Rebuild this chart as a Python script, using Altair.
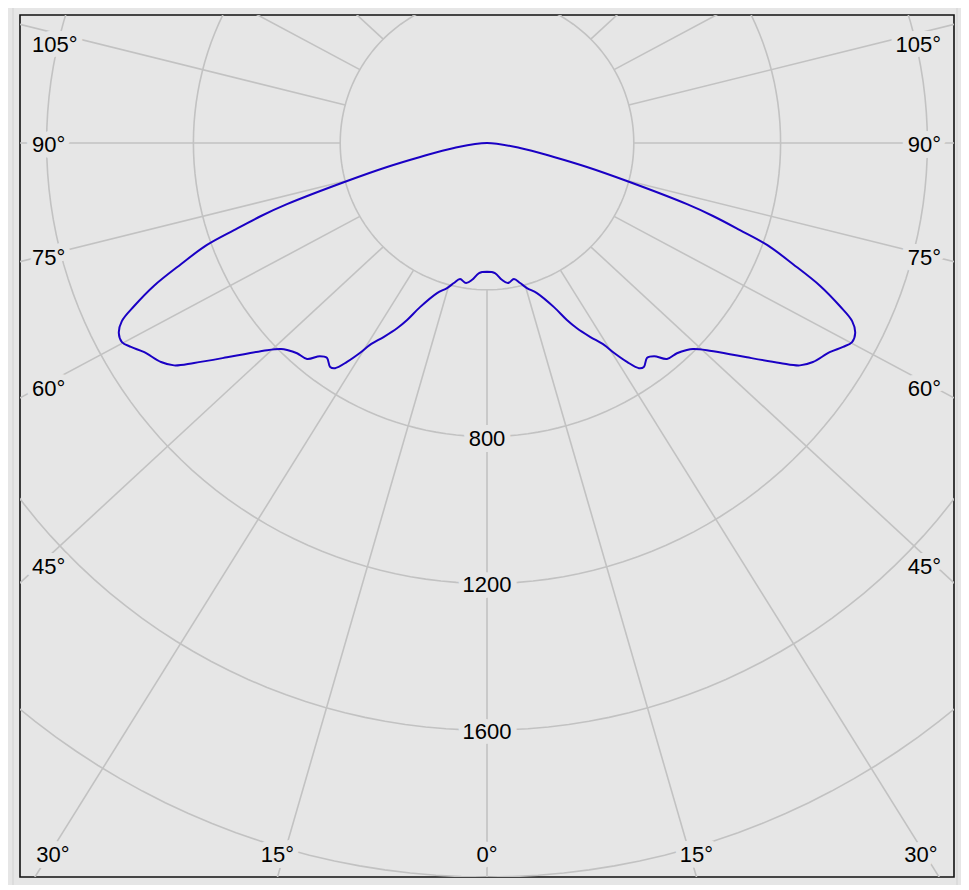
import math
import altair as alt
import pandas as pd

# ---------------- data ----------------
# symmetric half-curve: gamma angle (deg) and luminous intensity (cd)
GAMMA_DEG = [0, 3.5, 6.2, 8.5, 11.2, 13.3, 15.4, 18.4, 22.2, 24.3, 25.9, 28.0,
             30.1, 31.2, 32.6, 34.0, 35.0, 36.7, 38.1, 39.8, 42.1, 44.0, 45.0,
             46.7, 49.0, 50.5, 53.1, 54.6, 56.1, 58.6, 60.2, 61.4, 62.7, 64.0,
             65.2, 66.8, 68.4, 70.0, 71.0, 72.1, 73.0, 74.8, 76.5, 78.2, 81.4,
             90.0]
INTENSITY_CD = [351, 355, 375, 386, 378, 392, 410, 431, 483, 529, 561, 598,
                636, 669, 708, 740, 745, 730, 738, 766, 772, 784, 794,
                823, 877, 918, 998, 1046, 1070, 1094, 1118, 1133, 1129, 1107,
                1059, 987, 897, 812, 729, 647, 570, 395, 280, 186, 91,
                0]
CIRCLES_CD = [400, 800, 1200, 1600, 2000]
RADIUS_LABELS = [800, 1200, 1600]
SPOKES_DEG = list(range(-180, 180, 15))
ANGLE_LABELS = [-105, -90, -75, -60, -45, -30, -15, 0, 15, 30, 45, 60, 75, 90, 105]

# ---------------- layout / style ----------------
W, H = 934, 862
PX = 0.367            # pixels per cd
TOP_PX = 128          # pixels from top edge to pole
X_HALF = W / 2 / PX
Y_TOP = TOP_PX / PX
Y_BOT = Y_TOP - H / PX
SPOKE_IN, SPOKE_OUT, SPOKE_K = 400, 3000, 1.07
LABEL_K = 1.04
BG = "#e6e6e6"
GRID = "#c2c2c2"
FONT = "Liberation Sans"
FS = 22

# curve path: right side 0 -> 90 (pole), then left side 90 -> 0
seq = list(zip(GAMMA_DEG, INTENSITY_CD))
path = [(a, i) for a, i in seq] + [(-a, i) for a, i in reversed(seq[:-1])]
curve = pd.DataFrame([
    {"o": k, "x": i * math.sin(math.radians(a)), "y": -i * math.cos(math.radians(a))}
    for k, (a, i) in enumerate(path)
])

circ_rows = []
for r in CIRCLES_CD:
    for d in range(0, 361, 2):
        t = math.radians(d)
        circ_rows.append({"r": r, "o": d, "x": r * math.sin(t), "y": -r * math.cos(t)})
circles = pd.DataFrame(circ_rows)

spk_rows = []
for a in SPOKES_DEG:
    t = math.radians(a)
    spk_rows.append({
        "x": SPOKE_IN * math.sin(t), "y": -SPOKE_IN * math.cos(t),
        "x2": SPOKE_OUT * SPOKE_K * math.sin(t), "y2": -SPOKE_OUT * math.cos(t),
    })
spokes = pd.DataFrame(spk_rows)

# angle label positions (pixels relative to the pole, y downward)
bottom_rel = H - TOP_PX          # 734
lab_rows = []
for a in ANGLE_LABELS:
    t = math.radians(a)
    if abs(a) <= 30:
        p1x, p1y = SPOKE_IN * math.sin(t) * PX, SPOKE_IN * math.cos(t) * PX
        p2x, p2y = SPOKE_OUT * SPOKE_K * math.sin(t) * PX, SPOKE_OUT * math.cos(t) * PX
        tt = (bottom_rel - p1y) / (p2y - p1y)
        xr = p1x + tt * (p2x - p1x)
        xr = max(-434, min(434, xr))
        yr = bottom_rel - 24
        side = "c"
    else:
        yr = 439 / (LABEL_K * math.tan(math.radians(abs(a)))) if abs(a) != 90 else 0.0
        yr = max(-(TOP_PX - 28), yr)
        if a < 0:
            xr, side = -W / 2 + 12, "l"
        else:
            xr, side = W / 2 - 13, "r"
    lab_rows.append({"x": xr / PX, "y": -yr / PX, "t": f"{abs(a)}°", "side": side})
for r in RADIUS_LABELS:
    lab_rows.append({"x": 0.0, "y": -float(r), "t": str(r), "side": "c"})
labels = pd.DataFrame(lab_rows)

xs = alt.Scale(domain=[-X_HALF, X_HALF], nice=False, zero=False)
ys = alt.Scale(domain=[Y_BOT, Y_TOP], nice=False, zero=False)
X = alt.X("x:Q", scale=xs, axis=None)
Y = alt.Y("y:Q", scale=ys, axis=None)

circle_layer = alt.Chart(circles).mark_line(color=GRID, strokeWidth=1.6, clip=True).encode(
    x=X, y=Y, detail="r:N", order="o:Q")
spoke_layer = alt.Chart(spokes).mark_rule(color=GRID, strokeWidth=1.6, clip=True).encode(
    x=X, y=Y, x2="x2:Q", y2="y2:Q")
curve_layer = alt.Chart(curve).mark_line(color="#1a00c4", strokeWidth=2, clip=True,
                                         interpolate="catmull-rom").encode(
    x=X, y=Y, order="o:Q")

text_layers = []
for side, align in (("c", "center"), ("l", "left"), ("r", "right")):
    base = alt.Chart(labels).transform_filter(alt.datum.side == side)
    halo = base.mark_text(align=align, baseline="middle", font=FONT, fontSize=FS, dy=2,
                          stroke=BG, strokeWidth=12, strokeJoin="round", fill=BG).encode(
        x=X, y=Y, text="t:N")
    txt = base.mark_text(align=align, baseline="middle", font=FONT, fontSize=FS, dy=2,
                         color="#000000").encode(x=X, y=Y, text="t:N")
    text_layers += [halo, txt]

border = [
    alt.Chart(pd.DataFrame({"k": [0]})).mark_rule(color="#d2d2d2", strokeWidth=1, clip=False).encode(
        x=alt.value(-7), x2=alt.value(937), y=alt.value(-8)),
    alt.Chart(pd.DataFrame({"k": [0]})).mark_rule(color="#d2d2d2", strokeWidth=1, clip=False).encode(
        x=alt.value(-7), y=alt.value(-8), y2=alt.value(872)),
    alt.Chart(pd.DataFrame({"k": [0]})).mark_rule(color="#d2d2d2", strokeWidth=1, clip=False).encode(
        x=alt.value(937), y=alt.value(-8), y2=alt.value(872)),
]

chart = alt.layer(circle_layer, spoke_layer, curve_layer, *text_layers, *border).properties(
    width=W, height=H,
    autosize=alt.AutoSizeParams(type="none"),
    padding={"left": 12, "top": 7, "right": 7, "bottom": 8},
).configure(background=BG).configure_view(fill=BG, stroke="#111111", strokeWidth=1.6)

chart.save("out.html", embed_options={"renderer": "svg", "actions": False})
